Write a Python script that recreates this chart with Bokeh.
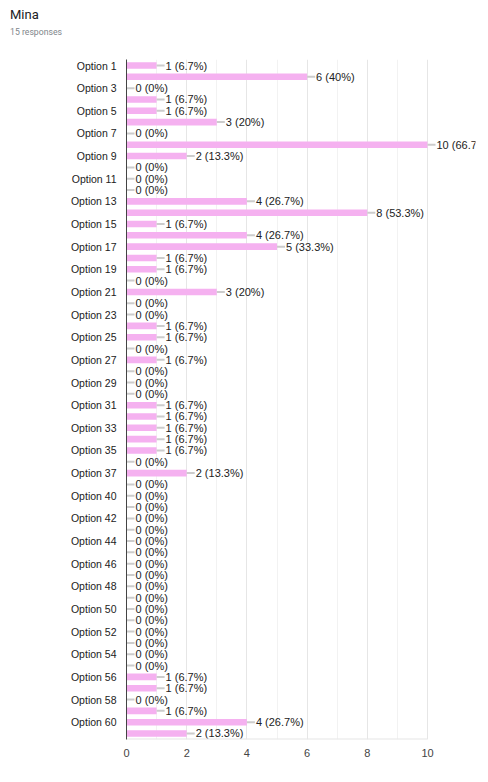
from bokeh.plotting import figure
from bokeh.models import Range1d, FixedTicker, ColumnDataSource, Div
from bokeh.layouts import column
from bokeh.core.properties import value
from bokeh.embed import file_html
from bokeh.resources import INLINE

title_text = "Mina"
subtitle_text = "15 responses"
total_responses = 15

option_numbers = list(range(1, 38)) + [38] + list(range(40, 62))
options = [f"Option {n}" for n in option_numbers]
counts = [1, 6, 0, 1, 1, 3, 0, 10, 2, 0,
          0, 0, 4, 8, 1, 4, 5, 1, 1, 0,
          3, 0, 0, 1, 1, 0, 1, 0, 0, 0,
          1, 1, 1, 1, 1, 0, 2, 0, 0, 0,
          0, 0, 0, 0, 0, 0, 0, 0, 0, 0,
          0, 0, 0, 0, 1, 1, 0, 1, 4, 2]
x_ticks = [0, 2, 4, 6, 8, 10]
x_minor_ticks = [1, 3, 5, 7, 9]

rows = list(range(len(options)))
labels = []
for c in counts:
    pct = round(c / total_responses * 100, 1)
    labels.append(f"{c} ({pct:g}%)")

src = ColumnDataSource(dict(y=rows, v=counts, label=labels))

FONT = "Liberation Sans"
x_px_per_unit = 30.1
frame_w = 349
pad = 0.53
y_top = -pad
y_bottom = len(rows) - 1 + pad
header_h = 59

header = Div(
    text=(
        f'<div style="position:relative;width:480px;height:{header_h}px;">'
        f'<span style="position:absolute;left:10px;top:8px;font-family:Roboto;'
        f'font-size:13px;line-height:13px;color:#202124;white-space:nowrap;">{title_text}</span>'
        f'<span style="position:absolute;left:10px;top:28px;font-family:Roboto;'
        f'font-size:8.7px;line-height:8.7px;color:#80868b;white-space:nowrap;">{subtitle_text}</span>'
        '</div>'
    ),
    width=480, height=header_h, margin=0,
)

p = figure(width=480, height=774 - header_h, output_backend="svg", toolbar_location=None,
           title=None,
           min_border_left=126, min_border_right=5, min_border_top=0, min_border_bottom=35,
           x_range=Range1d(0, frame_w / x_px_per_unit),
           y_range=Range1d(y_bottom, y_top), margin=0)
p.outline_line_color = None
p.background_fill_color = "white"
p.border_fill_color = "white"

p.hbar(y="y", right="v", left=0, height=0.58, source=src,
       fill_color="#f5b1f0", line_color=None)
p.ray(x="v", y="y", length=8, length_units="screen", angle=0, source=src,
      line_color="#cccccc", line_width=2)
p.text(x="v", y="y", text="label", source=src, x_offset=9,
       text_font=value(FONT), text_font_size=value("11px"), text_color="#222222",
       text_baseline="middle", text_align="left")

# bottom baseline
p.segment(x0=[x_ticks[0]], x1=[x_ticks[-1]], y0=[y_bottom], y1=[y_bottom],
          line_color="#e6e6e6", line_width=2)

# x axis
p.xaxis.ticker = FixedTicker(ticks=x_ticks, minor_ticks=x_minor_ticks)
p.xaxis.axis_line_color = None
p.xaxis.major_tick_line_color = None
p.xaxis.minor_tick_line_color = None
p.xaxis.major_tick_out = 0
p.xaxis.major_tick_in = 0
p.xaxis.major_label_standoff = 5
p.xaxis.major_label_text_font = FONT
p.xaxis.major_label_text_font_size = "11px"
p.xaxis.major_label_text_color = "#444444"

p.xgrid.ticker = FixedTicker(ticks=x_ticks, minor_ticks=x_minor_ticks)
p.xgrid.grid_line_color = "#e6e6e6"
p.xgrid.minor_grid_line_color = "#f2f2f2"
p.ygrid.grid_line_color = None

# y axis
even_rows = rows[::2]
p.yaxis.ticker = FixedTicker(ticks=even_rows, minor_ticks=[])
p.yaxis.major_label_overrides = {r: options[r] for r in even_rows}
p.yaxis.axis_line_color = "#444444"
p.yaxis.major_tick_line_color = None
p.yaxis.minor_tick_line_color = None
p.yaxis.major_tick_out = 0
p.yaxis.major_tick_in = 0
p.yaxis.major_label_standoff = 10
p.yaxis.major_label_text_font = FONT
p.yaxis.major_label_text_font_size = "10.5px"
p.yaxis.major_label_text_color = "#222222"

layout = column(header, p, spacing=0, margin=0)
open("out.html", "w").write(file_html(layout, INLINE))
